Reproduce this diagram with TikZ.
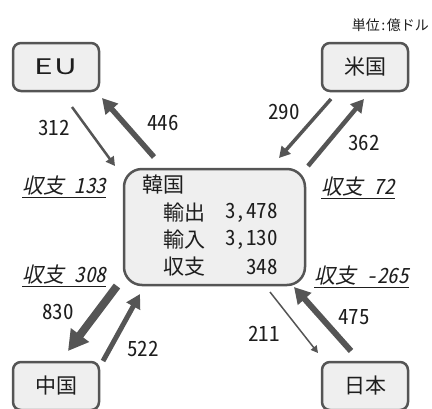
\documentclass[tikz,border=0pt]{standalone}
\usepackage{fontspec}
\usepackage{graphicx}
\setmainfont{Noto Sans CJK JP}
\newfontfamily\numf{Noto Sans CJK JP}[RawFeature=+hwid]
\newfontfamily\slf{Noto Sans CJK JP}[FakeSlant=0.22,RawFeature=+hwid]
\usetikzlibrary{arrows.meta}
\definecolor{ln}{HTML}{555555}
\definecolor{bx}{HTML}{EFEFEF}
\definecolor{tx}{HTML}{1E1E1E}
\tikzset{
  country/.style={draw=ln, fill=bx, line width=2.5pt, rounded corners=8pt,
    minimum width=86pt, minimum height=48pt, inner sep=0pt},
  hub/.style={draw=ln, fill=bx, line width=2.5pt, rounded corners=18pt,
    minimum width=181pt, minimum height=116pt, inner sep=0pt},
  flow/.style={draw=ln, line width=#1, -{Triangle[length=4pt 2, width=4pt 2.2]}},
  val/.style={font=\numf\fontsize{21}{24}\selectfont, inner sep=0pt},
  bal/.style={font=\slf\fontsize{21}{24}\selectfont, inner sep=0pt, anchor=west},
  rowlab/.style={inner sep=0pt, anchor=west},
  rownum/.style={font=\numf\fontsize{21}{24}\selectfont, inner sep=0pt, anchor=east}
}
\begin{document}
\begin{tikzpicture}[x=1pt,y=-1pt,font=\fontsize{21}{24}\selectfont,text=tx]
\useasboundingbox (0,0) rectangle (432,408);
% unit
\node[font=\fontsize{14}{16}\selectfont, anchor=east, inner sep=0pt] (unit) at (429,25) {単位{\numf :}億ドル};
% country boxes
\node[country] (eu) at (56,67) {\scalebox{1.5}[1.02]{E\kern0.5pt U}};
\node[country] (us) at (365,67) {米国};
\node[country] (cn) at (56,386) {中国};
\node[country] (jp) at (365,386) {日本};
% hub
\node[hub] (kr) at (214.5,227) {};
\node[rowlab] (krt) at (142,185) {韓国};
\node[rowlab] (r1) at (163,213) {輸出};
\node[rownum] (n1) at (278,213) {3,478};
\node[rowlab] (r2) at (163,240) {輸入};
\node[rownum] (n2) at (278,240) {3,130};
\node[rowlab] (r3) at (163,267) {収支};
\node[rownum] (n3) at (278,267) {348};
% arrow ends
\coordinate (e1s) at (72,107);  \coordinate (e1t) at (115,166);
\coordinate (e2s) at (154,157); \coordinate (e2t) at (102,98);
\coordinate (u1s) at (331,99);  \coordinate (u1t) at (279,158);
\coordinate (u2s) at (308,166); \coordinate (u2t) at (364,99);
\coordinate (c1s) at (117,286); \coordinate (c1t) at (68,351);
\coordinate (c2s) at (103,361); \coordinate (c2t) at (140,294);
\coordinate (j1s) at (270,292); \coordinate (j1t) at (318,353);
\coordinate (j2s) at (351,351); \coordinate (j2t) at (294,287);
\draw[flow=2.5pt] (e1s) -- (e1t);
\draw[flow=5.5pt] (e2s) -- (e2t);
\draw[flow=3.5pt] (u1s) -- (u1t);
\draw[flow=4.5pt] (u2s) -- (u2t);
\draw[flow=8pt] (c1s) -- (c1t);
\draw[flow=5pt] (c2s) -- (c2t);
\draw[flow=1.5pt] (j1s) -- (j1t);
\draw[flow=6pt] (j2s) -- (j2t);
% flow labels
\node[val] (l312) at (54,128) {312};
\node[val] (l446) at (163,123) {446};
\node[val] (l290) at (284,112) {290};
\node[val] (l362) at (364,143) {362};
\node[val] (l830) at (58,312) {830};
\node[val] (l522) at (143,349) {522};
\node[val] (l211) at (264,334) {211};
\node[val] (l475) at (354,317) {475};
% balances
\node[bal] (b1) at (22,187) {\underline{収支 133}};
\node[bal] (b2) at (321,188) {\underline{収支 72}};
\node[bal] (b3) at (22,276) {\underline{収支 308}};
\node[bal] (b4) at (314,277) {\underline{収支 -265}};
\end{tikzpicture}
\end{document}
